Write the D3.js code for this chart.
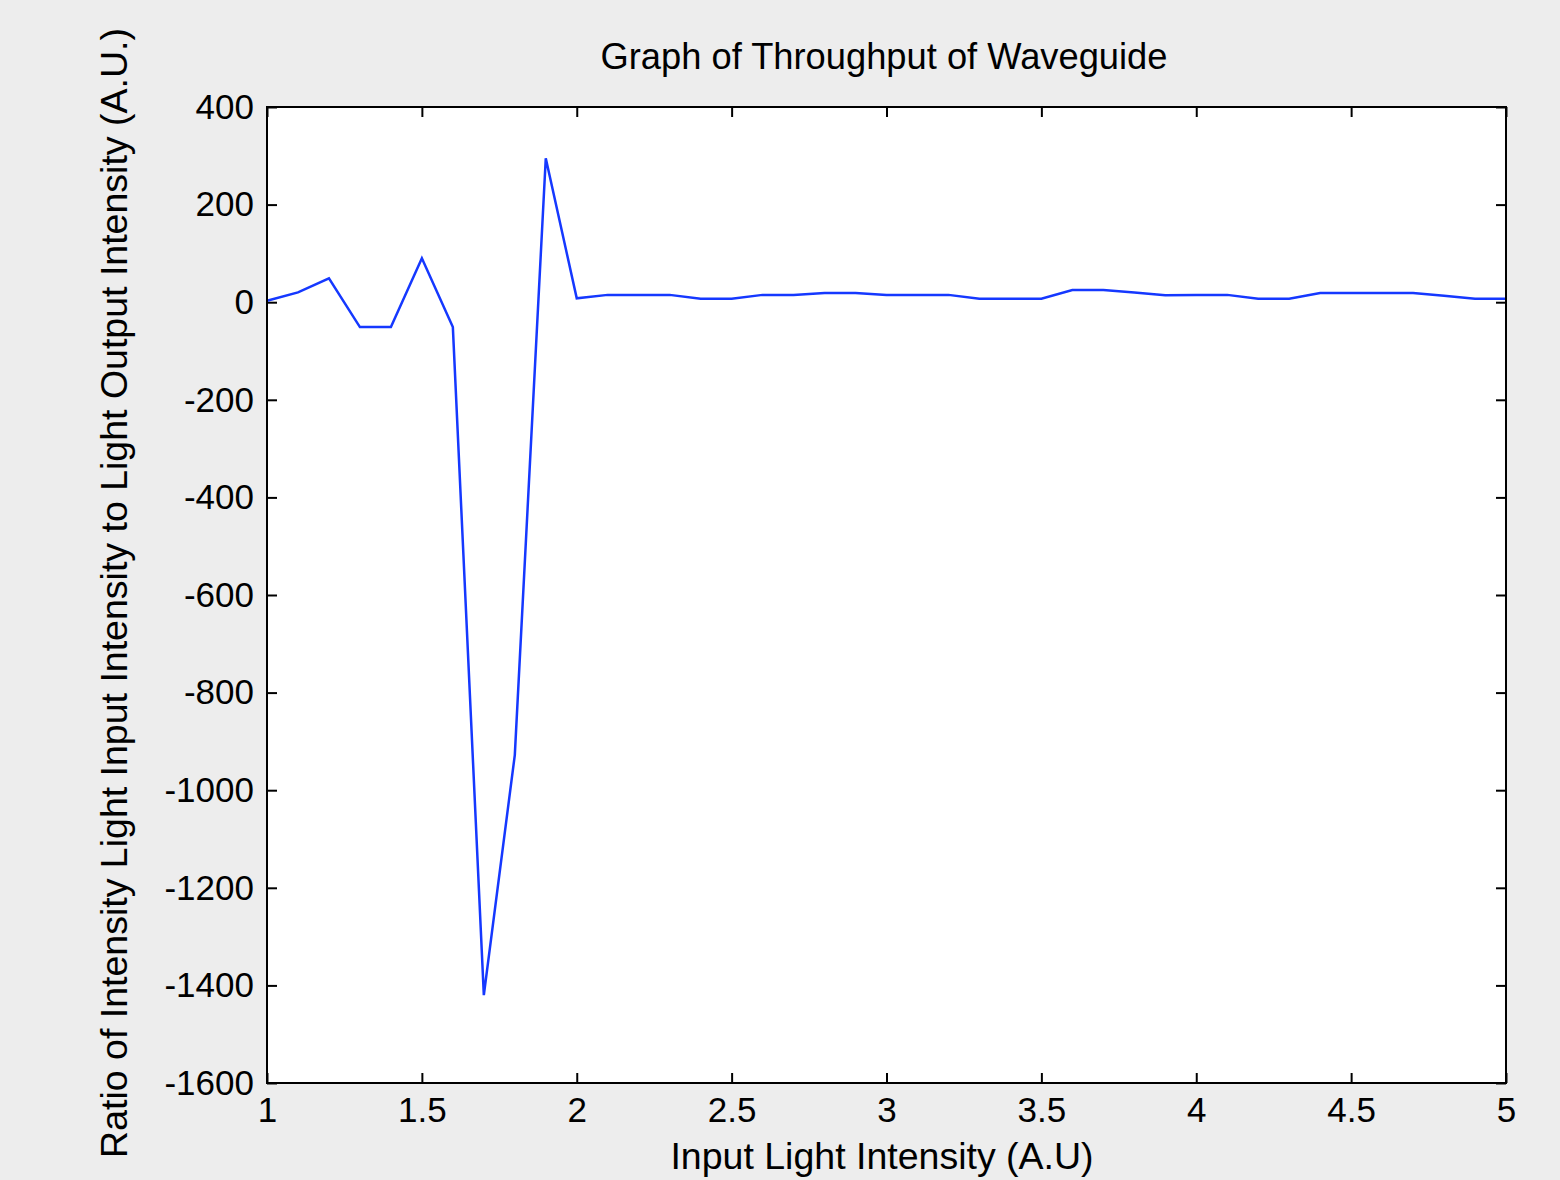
<!DOCTYPE html>
<html>
<head>
<meta charset="utf-8">
<script src="https://cdn.jsdelivr.net/npm/d3@7"></script>
<style>
  body { margin: 0; background: #ededed; }
  svg { display: block; }
</style>
</head>
<body>
<div id="chart"></div>
<script>
const WIDTH = 1560;
const HEIGHT = 1180;
const MARGIN = { top: 107, left: 267, right: 54, bottom: 97 };

const FONT = "'Liberation Sans', Arial, Helvetica, sans-serif";
const TICK_SIZE = 35;
const TITLE_SIZE = 36.3;
const LABEL_SIZE = 37.5;

// input light intensity (A.U), 1 to 5 in steps of 0.1
const inputIntensity = [
  1.0, 1.1, 1.2, 1.3, 1.4, 1.5, 1.6, 1.7, 1.8, 1.9,
  2.0, 2.1, 2.2, 2.3, 2.4, 2.5, 2.6, 2.7, 2.8, 2.9,
  3.0, 3.1, 3.2, 3.3, 3.4, 3.5, 3.6, 3.7, 3.8, 3.9,
  4.0, 4.1, 4.2, 4.3, 4.4, 4.5, 4.6, 4.7, 4.8, 4.9, 5.0
];

// ratio of input to output intensity
const ratio = [
  3, 20, 49, -51, -51, 90, -51, -1420, -928, 295,
  8, 15, 15, 15, 7, 7, 15, 15, 19, 19,
  15, 15, 15, 7, 7, 7, 25, 25, 20, 14,
  15, 15, 7, 7, 19, 19, 19, 19, 13, 7, 7
];

const xTicks = [1, 1.5, 2, 2.5, 3, 3.5, 4, 4.5, 5];
const yTicks = [-1600, -1400, -1200, -1000, -800, -600, -400, -200, 0, 200, 400];

const data = inputIntensity.map((x, i) => ({ x: x, y: ratio[i] }));

const innerW = WIDTH - MARGIN.left - MARGIN.right;
const innerH = HEIGHT - MARGIN.top - MARGIN.bottom;

// plain hyphen for negatives, like the original figure
const fmt = (d) => String(d);

const svg = d3.select("#chart").append("svg")
  .attr("width", WIDTH)
  .attr("height", HEIGHT)
  .style("background-color", "#ededed");

const g = svg.append("g")
  .attr("transform", `translate(${MARGIN.left}, ${MARGIN.top})`);

const x = d3.scaleLinear().domain([1, 5]).range([0, innerW]);
const y = d3.scaleLinear().domain([-1600, 400]).range([innerH, 0]);

// plot background
g.append("rect")
  .attr("width", innerW)
  .attr("height", innerH)
  .attr("fill", "#fff");

// ticks on all four sides, pointing inward
const styleAxis = (sel) => {
  sel.select(".domain").remove();
  sel.selectAll(".tick line").attr("stroke", "#000").attr("stroke-width", 2);
  sel.selectAll(".tick text")
    .attr("font-family", FONT)
    .attr("font-size", TICK_SIZE)
    .attr("fill", "#000");
};

g.append("g")
  .attr("transform", `translate(0, ${innerH})`)
  .call(d3.axisBottom(x).tickValues(xTicks).tickSizeInner(-10).tickSizeOuter(0)
    .tickPadding(14).tickFormat(fmt))
  .call(styleAxis);

g.append("g")
  .call(d3.axisTop(x).tickValues(xTicks).tickSizeInner(-10).tickSizeOuter(0)
    .tickFormat(""))
  .call(styleAxis);

g.append("g")
  .call(d3.axisLeft(y).tickValues(yTicks).tickSizeInner(-10).tickSizeOuter(0)
    .tickPadding(13).tickFormat(fmt))
  .call(styleAxis);

g.append("g")
  .attr("transform", `translate(${innerW}, 0)`)
  .call(d3.axisRight(y).tickValues(yTicks).tickSizeInner(-10).tickSizeOuter(0)
    .tickFormat(""))
  .call(styleAxis);

// the series
const line = d3.line()
  .x(d => x(d.x))
  .y(d => y(d.y));

g.append("path")
  .datum(data)
  .attr("fill", "none")
  .attr("stroke", "#1538ff")
  .attr("stroke-width", 2.5)
  .attr("stroke-linejoin", "miter")
  .attr("d", line);

// box
g.append("rect")
  .attr("width", innerW)
  .attr("height", innerH)
  .attr("fill", "none")
  .attr("stroke", "#000")
  .attr("stroke-width", 2);

// title
svg.append("text")
  .attr("x", 884)
  .attr("y", 69)
  .attr("text-anchor", "middle")
  .attr("font-family", FONT)
  .attr("font-size", TITLE_SIZE)
  .text("Graph of Throughput of Waveguide");

// x label
svg.append("text")
  .attr("x", 882)
  .attr("y", 1169)
  .attr("text-anchor", "middle")
  .attr("font-family", FONT)
  .attr("font-size", LABEL_SIZE)
  .text("Input Light Intensity (A.U)");

// y label
svg.append("text")
  .attr("transform", `translate(127, ${MARGIN.top + innerH / 2 - 2}) rotate(-90)`)
  .attr("text-anchor", "middle")
  .attr("font-family", FONT)
  .attr("font-size", LABEL_SIZE)
  .text("Ratio of Intensity Light Input Intensity to Light Output Intensity (A.U.)");
</script>
</body>
</html>
